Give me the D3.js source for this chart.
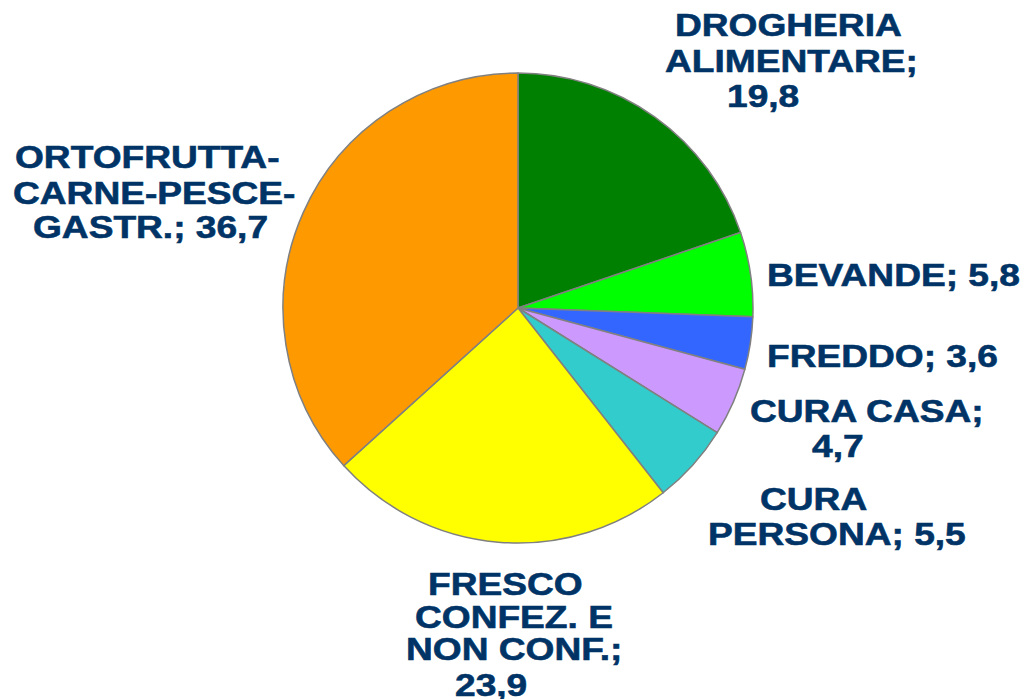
<!DOCTYPE html>
<html>
<head>
<meta charset="utf-8">
<script src="https://cdn.jsdelivr.net/npm/d3@7/dist/d3.min.js"></script>
<style>
  html, body { margin: 0; padding: 0; background: #fff; }
  svg { display: block; }
</style>
</head>
<body>
<div id="chart"></div>
<script>
  // Data, clockwise from 12 o'clock
  const categories = [
    'DROGHERIA ALIMENTARE', 'BEVANDE', 'FREDDO', 'CURA CASA',
    'CURA PERSONA', 'FRESCO CONFEZ. E NON CONF.', 'ORTOFRUTTA-CARNE-PESCE-GASTR.'
  ];
  const values = [19.8, 5.8, 3.6, 4.7, 5.5, 23.9, 36.7];
  const colors = ['#008000', '#00ff00', '#3366ff', '#cc99ff', '#33cccc', '#ffff00', '#ff9900'];
  // label text split into lines as they appear
  const labelLines = [
    ['DROGHERIA', 'ALIMENTARE;', '19,8'],
    ['BEVANDE; 5,8'],
    ['FREDDO; 3,6'],
    ['CURA CASA;', '4,7'],
    ['CURA', 'PERSONA; 5,5'],
    ['FRESCO', 'CONFEZ. E', 'NON CONF.;', '23,9'],
    ['ORTOFRUTTA-', 'CARNE-PESCE-', 'GASTR.; 36,7']
  ];

  const W = 1027, H = 699;
  const CX = 518, CY = 308, R = 235;
  const FONT = 32, STRETCH = 1.16;

  // left x / baseline y for each label line
  const labelLayout = [
    [[675, 36], [665, 72], [727, 107]],
    [[767, 286]],
    [[767, 367]],
    [[750, 422], [812, 457]],
    [[760, 510], [708, 545]],
    [[428, 595], [415, 628], [406, 660], [455, 696]],
    [[15, 168], [13, 204], [33, 238]]
  ];

  const data = categories.map((c, i) => ({ name: c, value: values[i], color: colors[i], lines: labelLines[i], pos: labelLayout[i] }));

  const svg = d3.select('#chart').append('svg')
    .attr('width', W)
    .attr('height', H);

  const pie = d3.pie().value(d => d.value).sort(null);
  const arc = d3.arc().innerRadius(0).outerRadius(R);

  svg.append('g')
    .attr('transform', `translate(${CX},${CY})`)
    .selectAll('path')
    .data(pie(data))
    .join('path')
    .attr('d', arc)
    .attr('fill', d => d.data.color)
    .attr('stroke', '#808080')
    .attr('stroke-width', 1.5)
    .attr('stroke-linejoin', 'round');

  // Labels
  data.forEach(d => {
    d.lines.forEach((line, j) => {
      const [x, y] = d.pos[j];
      svg.append('text')
        .attr('transform', `translate(${x},${y}) scale(${STRETCH},1)`)
        .attr('font-family', '"Liberation Sans", Arial, sans-serif')
        .attr('font-weight', 'bold')
        .attr('font-size', FONT)
        .attr('fill', '#003366')
        .attr('stroke', '#003366')
        .attr('stroke-width', 0.6)
        .text(line);
    });
  });
</script>
</body>
</html>
